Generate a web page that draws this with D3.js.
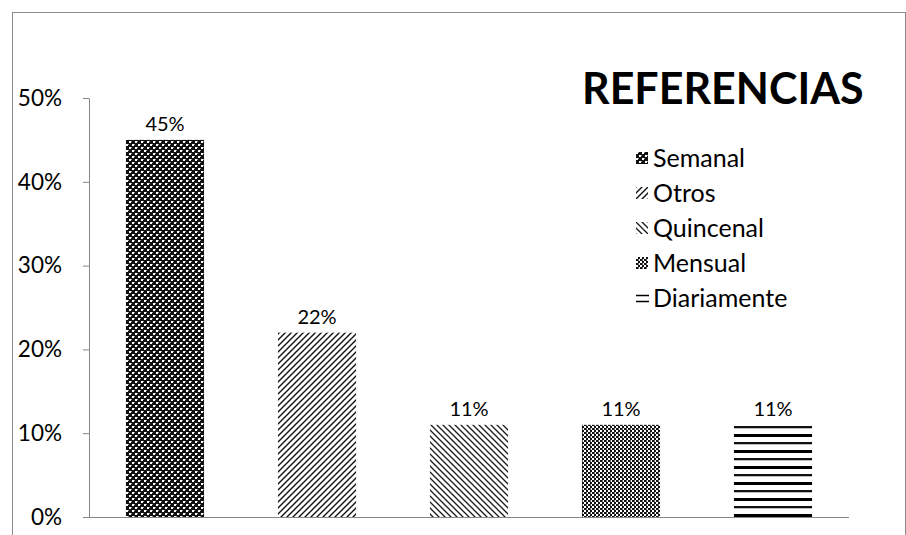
<!DOCTYPE html>
<html>
<head>
<meta charset="utf-8">
<script src="https://cdn.jsdelivr.net/npm/d3@7"></script>
<style>
  html, body { margin: 0; padding: 0; background: #fff; }
  svg { display: block; }
  text { font-family: "Lato", "Open Sans", sans-serif; fill: #000; }
</style>
</head>
<body>
<svg id="chart" width="906" height="535"></svg>
<script>
// Frequency categories and their shares
const categories = ["Semanal", "Otros", "Quincenal", "Mensual", "Diariamente"];
const values = [0.45, 0.22, 0.11, 0.11, 0.11];
const yTicks = [0, 0.1, 0.2, 0.3, 0.4, 0.5];
const legendTitle = "REFERENCIAS";

const svg = d3.select("#chart");
const W = 906, H = 535;
const margin = { left: 89, right: 57, top: 98, bottom: 18 };

// outer frame of the chart area
svg.append("rect")
  .attr("x", 12.5).attr("y", 12.5)
  .attr("width", 893).attr("height", 600)
  .attr("fill", "none").attr("stroke", "#8c8c8c").attr("stroke-width", 1);

// fill patterns, one per category
const defs = svg.append("defs");
function pattern(id, w, h, draw) {
  const p = defs.append("pattern").attr("id", id)
    .attr("patternUnits", "userSpaceOnUse").attr("width", w).attr("height", h);
  draw(p);
}
// Semanal: dark lattice with light dots
pattern("p-semanal", 6, 6, p => {
  p.append("rect").attr("width", 6).attr("height", 6).attr("fill", "#111");
  p.append("rect").attr("x", 0).attr("y", 0).attr("width", 2).attr("height", 2).attr("fill", "#fff");
  p.append("rect").attr("x", 3).attr("y", 3).attr("width", 2).attr("height", 2).attr("fill", "#fff");
  p.append("rect").attr("x", 2).attr("y", 0).attr("width", 1).attr("height", 1).attr("fill", "#999");
  p.append("rect").attr("x", 5).attr("y", 3).attr("width", 1).attr("height", 1).attr("fill", "#999");
});
// Otros: upward diagonal
pattern("p-otros", 6, 6, p => {
  p.append("rect").attr("width", 6).attr("height", 6).attr("fill", "#fff");
  p.append("path").attr("d", "M-2,8 L8,-2 M-2,2 L2,-2 M4,8 L8,4")
    .attr("stroke", "#111").attr("stroke-width", 1.4);
});
// Quincenal: downward diagonal
pattern("p-quincenal", 6, 6, p => {
  p.append("rect").attr("width", 6).attr("height", 6).attr("fill", "#fff");
  p.append("path").attr("d", "M-2,-2 L8,8 M4,-2 L8,2 M-2,4 L2,8")
    .attr("stroke", "#1a1a1a").attr("stroke-width", 1.3);
});
// Mensual: small checkerboard
pattern("p-mensual", 4, 4, p => {
  p.append("rect").attr("width", 4).attr("height", 4).attr("fill", "#fff");
  p.append("rect").attr("x", 0).attr("y", 0).attr("width", 2).attr("height", 2).attr("fill", "#111");
  p.append("rect").attr("x", 2).attr("y", 2).attr("width", 2).attr("height", 2).attr("fill", "#111");
  p.append("rect").attr("x", 2).attr("y", 0).attr("width", 1).attr("height", 2).attr("fill", "#666");
});
// Diariamente: horizontal lines
pattern("p-diariamente", 8, 16, p => {
  p.append("rect").attr("width", 8).attr("height", 16).attr("fill", "#fff");
  p.append("rect").attr("y", 2).attr("width", 8).attr("height", 3).attr("fill", "#000");
  p.append("rect").attr("y", 10).attr("width", 8).attr("height", 2).attr("fill", "#111");
  p.append("rect").attr("y", 12).attr("width", 8).attr("height", 1).attr("fill", "#bbb");
});
const fills = ["url(#p-semanal)", "url(#p-otros)", "url(#p-quincenal)", "url(#p-mensual)", "url(#p-diariamente)"];

const x = d3.scaleBand().domain(categories)
  .range([margin.left, W - margin.right]).paddingInner(0.486).paddingOuter(0.243);
const y = d3.scaleLinear().domain([0, 0.5]).range([H - margin.bottom, margin.top]);

// y axis
const yAxis = d3.axisLeft(y).tickValues(yTicks).tickFormat(d3.format(".0%")).tickSize(6).tickSizeOuter(0);
const gy = svg.append("g").attr("transform", `translate(${margin.left},0)`).call(yAxis);
gy.select(".domain").attr("stroke", "#868686");
gy.selectAll(".tick line").attr("stroke", "#868686");
gy.selectAll(".tick text").attr("x", -27).attr("font-size", 22.5)
  .attr("font-family", "Lato, sans-serif").attr("fill", "#000");

// x axis baseline (no labels)
svg.append("line")
  .attr("x1", margin.left).attr("x2", W - margin.right)
  .attr("y1", y(0) + 0.5).attr("y2", y(0) + 0.5)
  .attr("stroke", "#868686");

// bars
svg.selectAll("rect.bar").data(categories).join("rect")
  .attr("class", "bar")
  .attr("x", d => x(d)).attr("width", x.bandwidth())
  .attr("y", (d, i) => y(values[i]))
  .attr("height", (d, i) => y(0) - y(values[i]))
  .attr("fill", (d, i) => fills[i]);

// value labels
svg.selectAll("text.val").data(categories).join("text")
  .attr("class", "val")
  .attr("x", d => x(d) + x.bandwidth() / 2)
  .attr("y", (d, i) => y(values[i]) - 9)
  .attr("text-anchor", "middle").attr("font-size", 20)
  .text((d, i) => d3.format(".0%")(values[i]));

// legend
svg.append("text").attr("x", 582).attr("y", 104)
  .attr("font-size", 43).attr("font-weight", "bold").text(legendTitle);

const lg = svg.append("g").attr("transform", "translate(636,158)");
const rows = lg.selectAll("g").data(categories).join("g")
  .attr("transform", (d, i) => `translate(0,${i * 35})`);
rows.append("rect").attr("x", 0).attr("y", -6).attr("width", 12).attr("height", 12)
  .attr("fill", (d, i) => i === 4 ? "#fff" : fills[i]);
rows.filter((d, i) => i === 4).append("path")
  .attr("d", "M0,-2.5 H13 M0,3.5 H13").attr("stroke", "#000").attr("stroke-width", 1.6);
rows.append("text").attr("x", 17).attr("y", 0).attr("dy", "0.35em")
  .attr("font-size", 25).text(d => d);
</script>
</body>
</html>
